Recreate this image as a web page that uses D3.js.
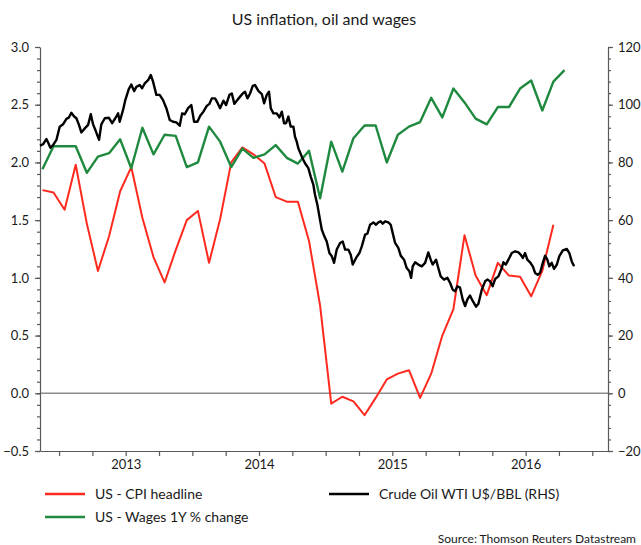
<!DOCTYPE html>
<html><head><meta charset="utf-8">
<script src="https://cdn.jsdelivr.net/npm/d3@7"></script>
<style>body{margin:0;background:#fff;} text{font-family:Lato, "Liberation Sans", sans-serif;}</style>
</head><body><svg id="c" width="641" height="545"></svg>
<script>
const months = ["2012-11","2012-12",
"2013-01","2013-02","2013-03","2013-04","2013-05","2013-06","2013-07","2013-08","2013-09","2013-10","2013-11","2013-12",
"2014-01","2014-02","2014-03","2014-04","2014-05","2014-06","2014-07","2014-08","2014-09","2014-10","2014-11","2014-12",
"2015-01","2015-02","2015-03","2015-04","2015-05","2015-06","2015-07","2015-08","2015-09","2015-10","2015-11","2015-12",
"2016-01","2016-02","2016-03","2016-04","2016-05","2016-06","2016-07","2016-08","2016-09","2016-10"];
const cpi = [1.76,1.74,1.59,1.98,1.47,1.06,1.36,1.75,1.96,1.52,1.18,0.96,1.24,1.5,1.58,1.13,1.51,2.0,2.13,2.07,1.99,1.7,1.66,1.66,1.32,0.76,
-0.09,-0.03,-0.07,-0.19,-0.04,0.12,0.17,0.2,-0.04,0.17,0.5,0.73,1.37,1.02,0.85,1.13,1.02,1.01,0.84,1.06,1.46];
const wages = [1.94,2.14,2.14,2.14,1.91,2.05,2.08,2.2,1.95,2.3,2.07,2.24,2.23,1.96,2.0,2.31,2.18,1.96,2.12,2.04,2.07,2.15,2.04,1.99,2.1,1.69,
2.18,1.92,2.21,2.32,2.32,2.0,2.24,2.31,2.35,2.56,2.39,2.64,2.52,2.38,2.33,2.48,2.48,2.64,2.71,2.45,2.7,2.8];
const oilDates = [2012.857,2012.880,2012.905,2012.917,2012.935,2012.955,2012.980,2013.005,2013.030,2013.055,2013.073,2013.092,2013.113,2013.130,2013.148,2013.167,2013.193,2013.218,2013.238,2013.255,2013.272,2013.300,2013.317,2013.343,2013.373,2013.398,2013.422,2013.443,2013.455,2013.480,2013.497,2013.523,2013.542,2013.563,2013.580,2013.605,2013.623,2013.643,2013.668,2013.688,2013.705,2013.730,2013.755,2013.780,2013.805,2013.830,2013.855,2013.880,2013.905,2013.923,2013.943,2013.968,2013.992,
2014.013,2014.038,2014.058,2014.083,2014.108,2014.128,2014.146,2014.170,2014.188,2014.208,2014.233,2014.253,2014.278,2014.296,2014.315,2014.333,2014.358,2014.378,2014.395,2014.413,2014.433,2014.453,2014.470,2014.495,2014.521,2014.538,2014.558,2014.575,2014.588,2014.608,2014.633,2014.653,2014.671,2014.688,2014.703,2014.720,2014.738,2014.758,2014.770,2014.783,2014.795,2014.821,2014.845,2014.870,2014.888,2014.908,2014.920,2014.938,2014.953,2014.971,2014.990,
2015.008,2015.028,2015.046,2015.063,2015.083,2015.108,2015.128,2015.146,2015.170,2015.188,2015.203,2015.228,2015.253,2015.271,2015.296,2015.313,2015.333,2015.358,2015.378,2015.395,2015.413,2015.428,2015.446,2015.470,2015.488,2015.503,2015.521,2015.545,2015.563,2015.588,2015.608,2015.628,2015.641,2015.653,2015.671,2015.695,2015.721,2015.746,2015.770,2015.788,2015.803,2015.828,2015.845,2015.863,2015.888,2015.913,2015.933,2015.953,2015.971,2015.988,
2016.008,2016.028,2016.046,2016.063,2016.083,2016.103,2016.128,2016.146,2016.171,2016.196,2016.213,2016.233,2016.253,2016.271,2016.296,2016.321,2016.333,2016.351,2016.371,2016.396,2016.421,2016.446,2016.464,2016.479,2016.496,2016.513,2016.533,2016.554,2016.571,2016.591,2016.608,2016.629,2016.646,2016.663,2016.678,2016.696,2016.713,2016.734,2016.753,2016.779,2016.809,2016.828,2016.846,2016.864];
const oil = [85.8,86.3,88.1,87,85.1,86,87.8,92.4,93.2,95.1,95.5,97.2,95.9,95.3,93.2,90.4,91.8,93,96.7,93.2,91.3,87.8,93.2,95.3,95.5,93.6,95.3,97,94.1,98.2,101.6,105.4,107,104.7,106.2,106.8,105.7,107.4,108.5,110.3,108,103.4,103.4,101.6,98.8,94.7,94.1,93.9,92.7,97,96.7,98.8,99.9,
94.1,94.1,96.1,97.6,99.6,100.3,102.2,102.2,100.7,98.8,101.4,99.9,103.4,103.9,100.3,101.4,102.8,103.9,104.5,102.2,103.9,106.5,106.8,104.8,103.7,100.5,103.4,104.5,98.8,97,97,95.6,97.6,93.6,93.6,95.9,92.4,92.4,88.9,87.2,84.9,82,79.7,78,75.1,72.2,68.8,65.3,61.3,56.7,54.4,
52.6,48.6,47.5,45.2,49.8,52.1,52.6,49.8,49.8,48,44.6,46.9,48.6,50.9,55,55.3,58.4,59.2,58.4,59.2,59.6,58.8,59.6,59.2,58.4,55.5,52.1,50.4,47.7,46.3,43.4,42.3,40,44,45.4,44.6,44,45.2,48.8,46.3,44.6,46.3,43.4,40.5,39.4,40,38.3,35.9,35.4,37.1,
36.6,32.5,30.2,32.5,33.9,32,30,31,35.9,38.8,39.4,38.8,37.1,39.6,40.5,43.4,45.4,44.6,46.3,48.6,49.2,48.8,48,46.9,48.6,46.3,45.4,44,41.7,41.1,41.7,45.2,47.7,46.3,44,45.2,43.1,44.6,47.5,49.5,50,48.6,45.7,44];
const leftTicks = [3.0,2.5,2.0,1.5,1.0,0.5,0.0,-0.5];
const rightTicks = [120,100,80,60,40,20,0,-20];
const yearLabels = [2013,2014,2015,2016];

const svg = d3.select("#c");
const L = 40, R = 608, T = 47, B = 451;
const x = d3.scaleLinear().domain([2012.857, 2017.118]).range([L, R]);
const yL = d3.scaleLinear().domain([-0.5, 3.0]).range([B, T]);
const yR = d3.scaleLinear().domain([-20, 120]).range([B, T]);
const monthX = m => { const [yy, mm] = m.split("-").map(Number); return yy + (mm - 0.5) / 12; };
const axisCol = "#595959";

// zero line
svg.append("line").attr("x1", L).attr("x2", R).attr("y1", yL(0)).attr("y2", yL(0))
  .attr("stroke", "#8c8c8c").attr("stroke-width", 1.5);

function styleAxis(g) {
  g.selectAll("path,line").attr("stroke", axisCol).attr("stroke-width", 1.2);
  g.selectAll("text").attr("fill", "#1a1a1a").style("font-size", "13px").style("font-family", "Lato, sans-serif");
}
// left axis minor
svg.append("g").attr("transform", `translate(${L},0)`)
  .call(d3.axisLeft(yL).tickValues(d3.range(-5, 31).map(d => d / 10)).tickSize(3).tickSizeOuter(0).tickFormat(""))
  .call(styleAxis);
svg.append("g").attr("transform", `translate(${L},0)`)
  .call(d3.axisLeft(yL).tickValues(leftTicks).tickSize(5).tickSizeOuter(0).tickFormat(d3.format(".1f")).tickPadding(6))
  .call(styleAxis).call(g => g.select(".domain").remove());
// right axis
svg.append("g").attr("transform", `translate(${R},0)`)
  .call(d3.axisRight(yR).tickValues(d3.range(-20, 121, 4)).tickSize(3).tickSizeOuter(0).tickFormat(""))
  .call(styleAxis);
svg.append("g").attr("transform", `translate(${R},0)`)
  .call(d3.axisRight(yR).tickValues(rightTicks).tickSize(5).tickSizeOuter(0).tickFormat(d3.format("d")).tickPadding(5))
  .call(styleAxis).call(g => g.select(".domain").remove());
// bottom axis
svg.append("g").attr("transform", `translate(0,${B})`)
  .call(d3.axisBottom(x).tickValues(d3.range(0, 17).map(i => 2013 + i / 4)).tickSize(5).tickSizeOuter(0).tickFormat(""))
  .call(styleAxis);
svg.append("g").attr("transform", `translate(0,${B})`)
  .call(d3.axisBottom(x).tickValues(yearLabels.map(yv => yv + 0.5)).tickSize(0).tickFormat((d, i) => String(yearLabels[i])).tickPadding(9))
  .call(styleAxis).call(g => g.select(".domain").remove());

// lines
const lineL = d3.line().x(d => x(d[0])).y(d => yL(d[1]));
const lineR = d3.line().x(d => x(d[0])).y(d => yR(d[1]));
svg.append("path").datum(cpi.map((v, i) => [monthX(months[i]), v])).attr("d", lineL)
  .attr("fill", "none").attr("stroke", "#ff2a1f").attr("stroke-width", 2).attr("stroke-linejoin", "round");
svg.append("path").datum(wages.map((v, i) => [monthX(months[i]), v])).attr("d", lineL)
  .attr("fill", "none").attr("stroke", "#1f8a3f").attr("stroke-width", 2.4).attr("stroke-linejoin", "round");
svg.append("path").datum(oil.map((v, i) => [oilDates[i], v])).attr("d", lineR)
  .attr("fill", "none").attr("stroke", "#000").attr("stroke-width", 2.4).attr("stroke-linejoin", "round");

// title
svg.append("text").attr("x", 324).attr("y", 25).attr("text-anchor", "middle")
  .style("font-size", "16px").attr("fill", "#1a1a1a").text("US inflation, oil and wages");

// legend
const legend = [
  {name: "US - CPI headline", color: "#ff2a1f", lx: 45, ly: 494},
  {name: "Crude Oil WTI U$/BBL (RHS)", color: "#000", lx: 329, ly: 494},
  {name: "US - Wages 1Y % change", color: "#1f8a3f", lx: 45, ly: 517}
];
legend.forEach(l => {
  svg.append("line").attr("x1", l.lx).attr("x2", l.lx + 40).attr("y1", l.ly).attr("y2", l.ly)
    .attr("stroke", l.color).attr("stroke-width", 2.5);
  svg.append("text").attr("x", l.lx + 50).attr("y", l.ly + 5).style("font-size", "14px")
    .attr("fill", "#1a1a1a").text(l.name);
});
svg.append("text").attr("x", 636).attr("y", 543).attr("text-anchor", "end").style("font-size", "12px")
  .attr("fill", "#1a1a1a").text("Source: Thomson Reuters Datastream");
</script></body></html>
